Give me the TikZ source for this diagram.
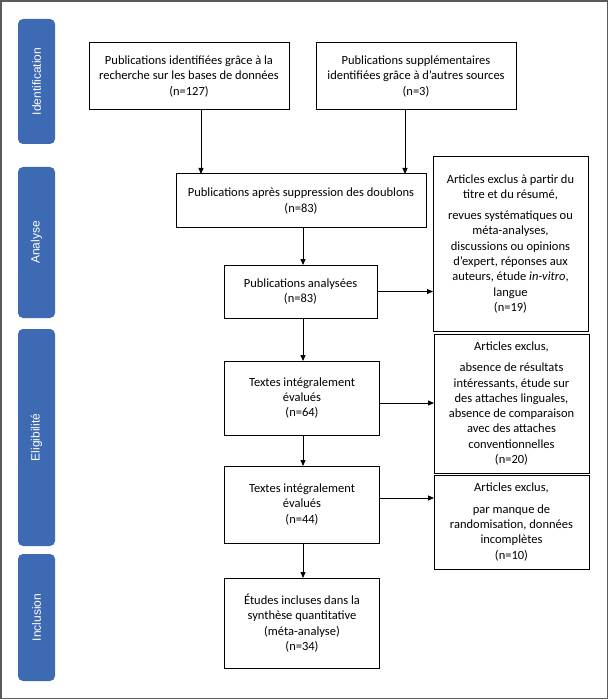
\documentclass[tikz,border=0pt]{standalone}
\usepackage{fontspec}
\setmainfont{Carlito}
\newfontfamily\sidefont{Liberation Sans}
\usetikzlibrary{arrows.meta}
\definecolor{barblue}{RGB}{62,106,180}
\definecolor{framegray}{RGB}{90,90,90}
\tikzset{
  box/.style={draw=black, line width=1pt, rectangle, inner sep=0pt, outer sep=0pt,
    align=center, font=\fontsize{12.5}{15.3}\selectfont},
  sidebar/.style={fill=barblue, draw=none, rounded corners=5pt, inner sep=0pt,
    minimum width=37pt, text=white, font=\sidefont\fontsize{12}{14}\selectfont},
  arr/.style={draw=black, line width=0.9pt, -{Triangle[length=6pt,width=5pt]}}
}
\begin{document}
\begin{tikzpicture}[x=1pt,y=-1pt]
\useasboundingbox (0,0) rectangle (609,700);
\draw[framegray, line width=1.5pt] (1,1) rectangle (607.5,698.5);

% side bars
\node[sidebar, minimum height=125pt] (s1) at (36.5,81.5) {\rotatebox{90}{Identification}};
\node[sidebar, minimum height=151pt] (s2) at (36.5,242.5) {\rotatebox{90}{Analyse}};
\node[sidebar, minimum height=217pt] (s3) at (36.5,437.5) {\rotatebox{90}{Eligibilité}};
\node[sidebar, minimum height=127pt] (s4) at (36.5,617.5) {\rotatebox{90}{Inclusion}};

% boxes
\node[box, minimum width=200pt, minimum height=67pt] (b1) at (189,76.5)
  {Publications identifiées grâce à la\\recherche sur les bases de données\\(n=127)};
\node[box, minimum width=200pt, minimum height=67pt] (b2) at (416,76.5)
  {Publications supplémentaires\\identifiées grâce à d’autres sources\\(n=3)};
\node[box, minimum width=250pt, minimum height=54pt] (b3) at (301,201)
  {Publications après suppression des doublons\\(n=83)};
\node[box, minimum width=153pt, minimum height=53pt] (b4) at (300.5,291.5)
  {Publications analysées\\(n=83)};
\node[box, minimum width=155pt, minimum height=174pt] (e1) at (510.5,244)
  {Articles exclus à partir du\\titre et du résumé,\\[5.5pt]revues systématiques ou\\méta-analyses,\\discussions ou opinions\\d’expert, réponses aux\\auteurs, étude \textit{in-vitro},\\langue\\(n=19)};
\node[box, minimum width=155pt, minimum height=74pt] (b5) at (302,398)
  {Textes intégralement\\évalués\\(n=64)};
\node[box, minimum width=155pt, minimum height=139pt] (e2) at (511.5,403.5)
  {Articles exclus,\\[6pt]absence de résultats\\intéressants, étude sur\\des attaches linguales,\\absence de comparaison\\avec des attaches\\conventionnelles\\(n=20)};
\node[box, minimum width=155pt, minimum height=77pt] (b6) at (302,504.5)
  {Textes intégralement\\évalués\\(n=44)};
\node[box, minimum width=155pt, minimum height=94pt] (e3) at (511.5,522)
  {Articles exclus,\\[6pt]par manque de\\randomisation, données\\incomplètes\\(n=10)};
\node[box, minimum width=155pt, minimum height=90pt] (b7) at (302,623)
  {Études incluses dans la\\synthèse quantitative\\(méta-analyse)\\(n=34)};

% connectors
\draw[arr] ([xshift=12pt]b1.south) -- ([xshift=12pt]b1.south |- b3.north);
\draw[arr] ([xshift=-11pt]b2.south) -- ([xshift=-11pt]b2.south |- b3.north);
\draw[arr] ([xshift=2pt]b3.south) -- ([xshift=2pt]b3.south |- b4.north);
\draw[arr] (b4.east) -- (b4.east -| e1.west);
\draw[arr] ([xshift=2.5pt]b4.south) -- ([xshift=2.5pt]b4.south |- b5.north);
\draw[arr] ([yshift=-5pt]b5.east) -- ([yshift=-5pt]b5.east -| e2.west);
\draw[arr] ([xshift=1pt]b5.south) -- ([xshift=1pt]b5.south |- b6.north);
\draw[arr] ([yshift=6.5pt]b6.east) -- ([yshift=6.5pt]b6.east -| e3.west);
\draw[arr] ([xshift=1pt]b6.south) -- ([xshift=1pt]b6.south |- b7.north);
\end{tikzpicture}
\end{document}
